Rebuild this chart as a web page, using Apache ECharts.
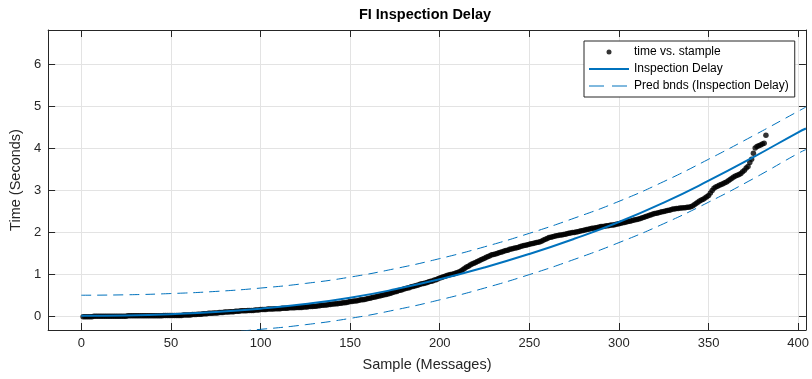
<!DOCTYPE html>
<html>
<head>
<meta charset="utf-8">
<script src="https://cdn.jsdelivr.net/npm/echarts@6/dist/echarts.min.js"></script>
<style>
html,body{margin:0;padding:0;background:#fff;}
#chart{width:812px;height:379px;}
</style>
</head>
<body>
<div id="chart"></div>
<script>
// Measured samples: time (s) for sample index 1..382
const sampleTimes = [
0.00,0.00,0.00,0.00,0.00,0.00,0.01,0.01,0.01,0.01,
0.01,0.01,0.01,0.01,0.01,0.01,0.01,0.01,0.01,0.01,
0.01,0.01,0.01,0.01,0.01,0.02,0.02,0.02,0.02,0.02,
0.02,0.02,0.02,0.02,0.02,0.02,0.02,0.02,0.02,0.02,
0.02,0.02,0.02,0.02,0.02,0.03,0.03,0.03,0.03,0.03,
0.03,0.03,0.03,0.03,0.03,0.03,0.04,0.04,0.04,0.04,
0.04,0.05,0.05,0.05,0.06,0.06,0.06,0.07,0.07,0.07,
0.08,0.08,0.08,0.09,0.09,0.09,0.10,0.10,0.10,0.11,
0.11,0.11,0.12,0.12,0.12,0.13,0.13,0.13,0.14,0.14,
0.14,0.14,0.15,0.15,0.15,0.15,0.16,0.16,0.16,0.17,
0.17,0.17,0.17,0.18,0.18,0.18,0.18,0.19,0.19,0.19,
0.19,0.20,0.20,0.20,0.20,0.21,0.21,0.21,0.21,0.22,
0.22,0.22,0.22,0.23,0.23,0.23,0.24,0.24,0.24,0.25,
0.25,0.26,0.26,0.27,0.27,0.28,0.28,0.29,0.29,0.30,
0.30,0.31,0.31,0.32,0.32,0.33,0.33,0.34,0.35,0.36,
0.36,0.37,0.37,0.38,0.39,0.40,0.40,0.41,0.42,0.43,
0.44,0.45,0.46,0.47,0.48,0.49,0.50,0.51,0.52,0.53,
0.54,0.55,0.56,0.58,0.59,0.60,0.62,0.63,0.64,0.66,
0.67,0.68,0.69,0.71,0.72,0.73,0.74,0.75,0.77,0.78,
0.79,0.80,0.81,0.83,0.84,0.85,0.87,0.88,0.90,0.92,
0.93,0.95,0.96,0.98,0.99,1.00,1.01,1.02,1.04,1.05,
1.07,1.09,1.12,1.15,1.18,1.20,1.23,1.25,1.27,1.29,
1.31,1.33,1.35,1.37,1.39,1.41,1.43,1.45,1.47,1.48,
1.49,1.50,1.52,1.53,1.54,1.56,1.57,1.58,1.60,1.61,
1.62,1.63,1.64,1.65,1.67,1.68,1.69,1.70,1.71,1.72,
1.73,1.74,1.75,1.76,1.77,1.78,1.80,1.82,1.84,1.86,
1.88,1.89,1.90,1.91,1.92,1.93,1.94,1.94,1.95,1.96,
1.97,1.98,1.99,2.00,2.00,2.01,2.02,2.03,2.04,2.05,
2.06,2.07,2.08,2.09,2.10,2.10,2.11,2.12,2.13,2.14,
2.14,2.15,2.16,2.16,2.17,2.18,2.18,2.19,2.20,2.21,
2.22,2.23,2.24,2.25,2.26,2.27,2.28,2.29,2.30,2.31,
2.32,2.33,2.35,2.36,2.38,2.39,2.41,2.42,2.44,2.45,
2.46,2.47,2.48,2.49,2.50,2.51,2.52,2.53,2.54,2.56,
2.56,2.57,2.57,2.58,2.58,2.59,2.59,2.60,2.60,2.61,
2.63,2.66,2.69,2.72,2.75,2.77,2.79,2.82,2.85,2.88,
2.94,3.00,3.05,3.08,3.10,3.12,3.14,3.16,3.18,3.20,
3.23,3.26,3.29,3.32,3.34,3.36,3.38,3.40,3.44,3.48,
3.53,3.57,3.66,3.74,3.88,4.01,4.04,4.06,4.08,4.10,
4.12,4.31
];

// Fitted curve and prediction bounds, read at these x positions
const curveX  = [0, 25, 50, 75, 100, 125, 150, 175, 200, 225, 250, 275, 300, 325, 350, 375, 400, 404.3];
const fitY    = [0.02, 0.03, 0.06, 0.11, 0.19, 0.30, 0.45, 0.65, 0.89, 1.17, 1.49, 1.85, 2.25, 2.71, 3.23, 3.79, 4.38, 4.47];
const upperY  = [0.51, 0.52, 0.55, 0.60, 0.68, 0.79, 0.94, 1.14, 1.38, 1.66, 1.98, 2.34, 2.74, 3.21, 3.74, 4.30, 4.88, 4.98];
const lowerY  = [-0.47, -0.46, -0.43, -0.38, -0.30, -0.19, -0.04, 0.16, 0.40, 0.68, 1.00, 1.36, 1.76, 2.21, 2.72, 3.28, 3.88, 3.97];

const xTickLabels = ['0','50','100','150','200','250','300','350','400'];
const yTickLabels = ['0','1','2','3','4','5','6'];

const names = {
  data: 'time vs. stample',
  fit: 'Inspection Delay',
  bnds: 'Pred bnds (Inspection Delay)'
};

const FONT = '"Liberation Sans", Arial, Helvetica, sans-serif';
const AX = '#262626';
const BLUE = '#0072BD';

const scatterData = sampleTimes.map((v, i) => [i + 1, v]);
const pair = (ys) => curveX.map((x, i) => [x, ys[i]]);

const chart = echarts.init(document.getElementById('chart'), null, {renderer: 'canvas'});

const axisCommonX = {
  type: 'value', min: -18.5, max: 404.3,
  minInterval: 50, maxInterval: 50, splitNumber: 8
};
const axisCommonY = {
  type: 'value', min: -0.316, max: 6.81,
  minInterval: 1, maxInterval: 1, splitNumber: 7
};

chart.setOption({
  animation: false,
  backgroundColor: '#ffffff',
  textStyle: {fontFamily: FONT},
  title: {
    text: 'FI Inspection Delay',
    left: 425, top: 7, textAlign: 'center', padding: 0,
    textStyle: {fontFamily: FONT, fontSize: 14.5, fontWeight: 'bold', color: '#000'}
  },
  grid: {left: 44, right: 6, top: 30, bottom: 49, containLabel: false},
  legend: {
    orient: 'vertical',
    left: 584, top: 41,
    padding: [5, 6, 5, 4],
    itemWidth: 40, itemHeight: 10, itemGap: 5,
    backgroundColor: '#ffffff',
    borderColor: AX, borderWidth: 1,
    textStyle: {fontFamily: FONT, fontSize: 12, color: '#000'},
    data: [
      {name: names.data, icon: 'path://M0,0M40,10M17.5,5a2.5,2.5 0 1,0 5,0a2.5,2.5 0 1,0 -5,0Z'},
      {name: names.fit, itemStyle: {opacity: 0}, lineStyle: {width: 2}},
      {name: names.bnds, itemStyle: {opacity: 0}, lineStyle: {width: 1, type: [15, 8]}}
    ]
  },
  xAxis: [
    Object.assign({}, axisCommonX, {
      position: 'bottom',
      name: 'Sample (Messages)', nameLocation: 'middle', nameGap: 27,
      nameTextStyle: {fontFamily: FONT, fontSize: 14.5, color: AX},
      axisLine: {show: true, onZero: false, lineStyle: {color: AX, width: 1}},
      axisTick: {show: true, inside: true, length: 7, lineStyle: {color: AX}},
      axisLabel: {
        show: true, margin: 7, fontFamily: FONT, fontSize: 13, color: AX,
        showMinLabel: false, showMaxLabel: false,
        formatter: (v) => xTickLabels.indexOf(String(v)) >= 0 ? String(v) : ''
      },
      splitLine: {show: true, lineStyle: {color: '#e3e3e3', width: 1}}
    }),
    Object.assign({}, axisCommonX, {
      position: 'top',
      axisLine: {show: true, onZero: false, lineStyle: {color: AX, width: 1}},
      axisTick: {show: true, inside: true, length: 7, lineStyle: {color: AX}},
      axisLabel: {show: false},
      splitLine: {show: false}
    })
  ],
  yAxis: [
    Object.assign({}, axisCommonY, {
      position: 'left',
      name: 'Time (Seconds)', nameLocation: 'middle', nameGap: 19, nameRotate: 90,
      nameTextStyle: {fontFamily: FONT, fontSize: 14.5, color: AX},
      axisLine: {show: true, onZero: false, lineStyle: {color: AX, width: 1}},
      axisTick: {show: true, inside: true, length: 7, lineStyle: {color: AX}},
      axisLabel: {
        show: true, margin: 7, fontFamily: FONT, fontSize: 13, color: AX,
        showMinLabel: false, showMaxLabel: false,
        formatter: (v) => yTickLabels.indexOf(String(v)) >= 0 ? String(v) : ''
      },
      splitLine: {show: true, lineStyle: {color: '#e3e3e3', width: 1}}
    }),
    Object.assign({}, axisCommonY, {
      position: 'right',
      axisLine: {show: true, onZero: false, lineStyle: {color: AX, width: 1}},
      axisTick: {show: true, inside: true, length: 7, lineStyle: {color: AX}},
      axisLabel: {show: false},
      splitLine: {show: false}
    })
  ],
  series: [
    {
      name: names.data, type: 'scatter',
      xAxisIndex: 0, yAxisIndex: 0,
      data: scatterData,
      symbol: 'circle', symbolSize: 5.5,
      itemStyle: {color: '#000000'},
      z: 2, clip: true
    },
    {
      name: names.fit, type: 'line',
      xAxisIndex: 0, yAxisIndex: 0,
      data: pair(fitY), smooth: true, symbol: 'none',
      lineStyle: {color: BLUE, width: 2},
      itemStyle: {color: BLUE},
      z: 3, clip: true
    },
    {
      name: names.bnds, type: 'line',
      xAxisIndex: 0, yAxisIndex: 0,
      data: pair(upperY), smooth: true, symbol: 'none',
      lineStyle: {color: BLUE, width: 1, type: [10, 6]},
      itemStyle: {color: BLUE},
      z: 3, clip: true
    },
    {
      name: names.bnds, type: 'line',
      xAxisIndex: 0, yAxisIndex: 0,
      data: pair(lowerY), smooth: true, symbol: 'none',
      lineStyle: {color: BLUE, width: 1, type: [10, 6]},
      itemStyle: {color: BLUE},
      z: 3, clip: true
    }
  ]
});
</script>
</body>
</html>
